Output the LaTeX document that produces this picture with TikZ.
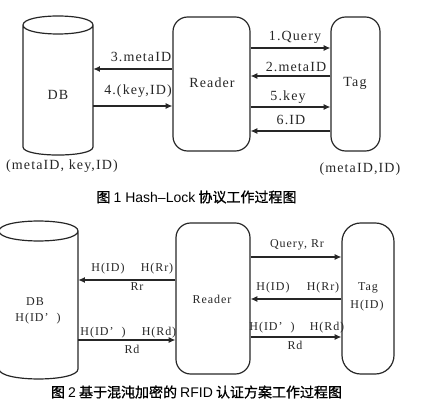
\documentclass[tikz,border=0pt]{standalone}
\usepackage{fontspec}
\setmainfont{Liberation Serif}
\newfontfamily\lblfont[LetterSpace=8]{Liberation Serif}
\newfontfamily\cjk[FakeBold=1]{Noto Sans CJK SC}
\newfontfamily\latcap{Liberation Sans}
\usetikzlibrary{arrows.meta,fit}
\begin{document}
\begin{tikzpicture}[x=0.75pt,y=-0.75pt,
 ln/.style={draw=black!85, line width=0.9pt},
 arr/.style={draw=black!85, line width=0.8pt, -{Latex[length=5pt,width=4.5pt]}},
 lbA/.style={font=\lblfont\fontsize{10.5}{12}\selectfont, text=black!85, inner sep=0pt},
 lbB/.style={font=\lblfont\fontsize{9}{10.5}\selectfont, text=black!85, inner sep=0pt},
 box/.style={ln, rounded corners=11pt, inner sep=0pt},
 captxt/.style={font=\cjk\fontsize{10.5}{12}\selectfont, inner sep=0pt}]
\useasboundingbox (0,0) rectangle (427,409);

% ---------- Figure 1 ----------
\draw[ln] (23,25) -- (23,147) .. controls (23,157.7) and (93,157.7) .. (93,147) -- (93,25)
  .. controls (93,13) and (23,13) .. (23,25) .. controls (23,37) and (93,37) .. (93,25);
\node[fit={(23,25) (93,147)}, inner sep=0pt] (db1) {};
\node[lbA] (db1t) at (58,95) {DB};
\node[lbA] (db1s) at (62,166) {(metaID, key,ID)};

\node[box, fit={(173,17) (250,151)}] (rd1) {};
\node[lbA] (rd1t) at (212,83) {Reader};
\node[box, fit={(331,17) (380,151)}] (tg1) {};
\node[lbA] (tg1t) at (355,83) {Tag};
\node[lbA] (tg1s) at (360,169) {(metaID,ID)};

\draw[arr] (rd1.west |- 0,69) -- (db1.east |- 0,69);
\node[lbA] (m3) at (141,57) {3.metaID};
\draw[arr] (db1.east |- 0,106) -- (rd1.west |- 0,106);
\node[lbA] (m4) at (138,91) {4.(key,ID)};

\draw[arr] (rd1.east |- 0,48) -- (tg1.west |- 0,48);
\node[lbA] (m1) at (295,37) {1.Query};
\draw[arr] (tg1.west |- 0,76) -- (rd1.east |- 0,76);
\node[lbA] (m2) at (296,67) {2.metaID};
\draw[arr] (rd1.east |- 0,107) -- (tg1.west |- 0,107);
\node[lbA] (m5) at (288,97) {5.key};
\draw[arr] (tg1.west |- 0,131) -- (rd1.east |- 0,131);
\node[lbA] (m6) at (291,120) {6.ID};

\node[captxt] (cap1) at (196.5,197) {图 {\latcap 1 Hash–Lock} 协议工作过程图};

% ---------- Figure 2 ----------
\draw[ln] (-1,231) -- (-1,369) .. controls (-1,382.3) and (78,382.3) .. (78,369) -- (78,231)
  .. controls (78,217.7) and (-1,217.7) .. (-1,231) .. controls (-1,244.3) and (78,244.3) .. (78,231);
\node[fit={(-1,231) (78,369)}, inner sep=0pt] (db2) {};
\node[lbB] (db2t) at (35,302) {DB};
\node[lbB] (db2s) at (38,319) {H(ID’\ \ )};

\node[box, fit={(176,223) (250,374)}] (rd2) {};
\node[lbB] (rd2t) at (212,299) {Reader};
\node[box, rounded corners=14pt, fit={(342,223) (394,374)}] (tg2) {};
\node[lbB] (tg2t) at (368,288) {Tag};
\node[lbB] (tg2s) at (367,306) {H(ID)};

\draw[arr] (rd2.west |- 0,280) -- (db2.east |- 0,280);
\node[lbB] (a1) at (108,269) {H(ID)};
\node[lbB] (a2) at (157,269) {H(Rr)};
\node[lbB] (a3) at (137,287) {Rr};
\draw[arr] (db2.east |- 0,340) -- (rd2.west |- 0,340);
\node[lbB] (b1) at (103,333) {H(ID’\ \ )};
\node[lbB] (b2) at (159,333) {H(Rd)};
\node[lbB] (b3) at (132,349) {Rd};

\draw[arr] (rd2.east |- 0,257) -- (tg2.west |- 0,257);
\node[lbB] (c1) at (297,245) {Query, Rr};
\draw[arr] (tg2.west |- 0,299) -- (rd2.east |- 0,299);
\node[lbB] (d1) at (273,288) {H(ID)};
\node[lbB] (d2) at (323,288) {H(Rr)};
\draw[arr] (rd2.east |- 0,337) -- (tg2.west |- 0,337);
\node[lbB] (e1) at (272,328) {H(ID’\ \ )};
\node[lbB] (e2) at (327,328) {H(Rd)};
\node[lbB] (e3) at (295,345) {Rd};

\node[captxt] (cap2) at (196.5,392) {图 {\latcap 2} 基于混沌加密的 {\latcap RFID} 认证方案工作过程图};
\end{tikzpicture}
\end{document}
